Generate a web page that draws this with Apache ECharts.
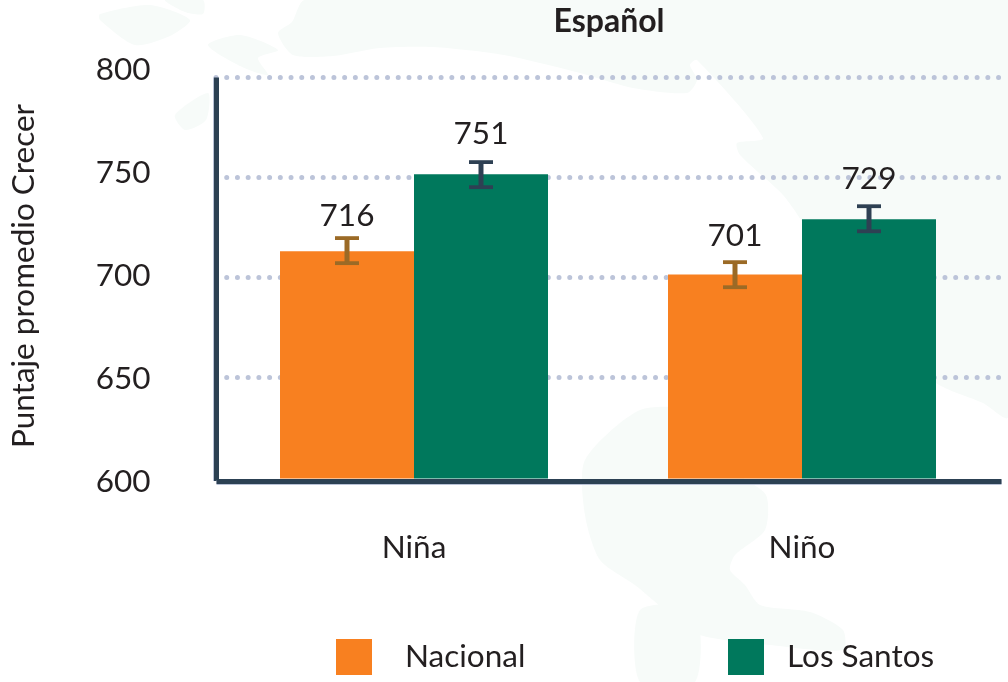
<!DOCTYPE html>
<html><head><meta charset="utf-8">
<style>html,body{margin:0;padding:0;background:#fff}#c{width:1008px;height:682px}</style>
<script src="https://cdn.jsdelivr.net/npm/echarts@6/dist/echarts.min.js"></script>
</head><body><div id="c"></div>
<script>
const categories = ['Niña', 'Niño'];
const nacionalBars = [713.3, 701.8];
const santosBars = [751.8, 729.3];
const nacionalLabels = ['716', '701'];
const santosLabels = ['751', '729'];
const nacionalLow = [707.4, 695.4];
const nacionalHigh = [719.9, 707.9];
const santosLow = [745.3, 723.3];
const santosHigh = [757.8, 735.8];
const nacionalLabelAt = [731.2, 720.8];
const santosLabelAt = [771.9, 749.6];
const yTicks = {min: 600, max: 800, interval: 50};

const FONT = 'Lato';
const INK = '#231f20';
const ORANGE = '#f88020';
const GREEN = '#00785c';
const AXIS = '#2c4153';
const BAR_W = 134;
const FS = 31.5;

const wash = '#f7fbf9';
const shapes = [
  [[305,0],[292,22],[278,33],[293,55],[333,56],[380,48],[433,47],[504,55],[580,73],[633,88],[687,93],[697,80],[690,65],[697,60],[763,138],[737,143],[740,155],[783,195],[810,235],[840,300],[936,383],[983,403],[1008,417],[1008,0]],
  [[100,14],[150,5],[190,20],[170,36],[135,45],[100,20]],
  [[165,0],[203,0],[203,14],[185,12]],
  [[208,45],[240,35],[278,50],[258,58],[268,75],[240,66]],
  [[175,115],[208,93],[206,120],[185,130]],
  [[585,515],[600,560],[635,585],[665,610],[700,635],[770,645],[843,650],[843,630],[810,612],[760,605],[745,585],[730,570],[735,555],[765,530],[766,495],[735,470],[735,430],[700,410],[640,410],[585,460]],
  [[640,610],[695,610],[695,682],[640,682]]
];

function errorSeries(name, low, high, labels, labelAt, color, dir) {
  return {
    name, type: 'custom', xAxisIndex: 0, yAxisIndex: 0, z: 6, clip: false,
    data: categories.map((c, i) => [i, low[i], high[i], labelAt[i], labels[i]]),
    encode: {x: 0, y: [1, 2]},
    renderItem(params, api) {
      const i = api.value(0);
      const lo = api.coord([i, api.value(1)]);
      const hi = api.coord([i, api.value(2)]);
      const at = api.coord([i, api.value(3)]);
      const x = lo[0] + dir * BAR_W / 2;
      const line = (x1, y1, x2, y2, w) => ({type: 'line', shape: {x1, y1, x2, y2}, style: {stroke: color, lineWidth: w}});
      return {type: 'group', children: [
        line(x, hi[1], x, lo[1], 5),
        line(x - 12, hi[1], x + 12, hi[1], 3.8),
        line(x - 12, lo[1], x + 12, lo[1], 3.8),
        {type: 'text', style: {text: labels[i], x, y: at[1], align: 'center', verticalAlign: 'middle',
          fontFamily: FONT, fontSize: FS, fill: INK}}
      ]};
    }
  };
}

const hiddenX = (g) => ({type: 'category', gridIndex: g, data: categories, show: false});

const option = {
  backgroundColor: '#fff',
  animation: false,
  title: {text: 'Español', left: 609, textAlign: 'center', top: 6, padding: 0,
    textStyle: {fontFamily: FONT, fontSize: 32, fontWeight: 'bold', color: INK}},
  graphic: shapes.map(points => ({type: 'polygon', z: -10, silent: true,
    shape: {points, smooth: 0.25}, style: {fill: wash}})),
  legend: [
    {left: 336, top: 639, data: ['Nacional'], itemWidth: 36, itemHeight: 36, selectedMode: false, padding: 0, icon: 'rect',
      textStyle: {fontFamily: FONT, fontSize: FS, color: INK, padding: [10, 0, 0, 28]}},
    {left: 728, top: 639, data: ['Los Santos'], itemWidth: 36, itemHeight: 36, selectedMode: false, padding: 0, icon: 'rect',
      textStyle: {fontFamily: FONT, fontSize: FS, color: INK, padding: [10, 0, 0, 18]}}
  ],
  grid: [
    {left: 220, width: 776, top: 77.5, height: 401},
    {left: 216, width: 794, top: 77.5, height: 400},
    {left: 216, width: 794, top: 70, height: 412},
    {left: 216.5, width: 785, top: 77.5, height: 403.5}
  ],
  xAxis: [
    {type: 'category', gridIndex: 0, data: categories, axisLine: {show: false}, axisTick: {show: false},
      axisLabel: {margin: 53, fontFamily: FONT, fontSize: FS, color: INK}},
    hiddenX(1), hiddenX(2),
    {type: 'category', gridIndex: 3, data: categories, z: 8, axisTick: {show: false}, axisLabel: {show: false},
      axisLine: {show: true, lineStyle: {color: AXIS, width: 5, cap: 'butt', shadowColor: '#b9c2d6', shadowOffsetY: 1, shadowBlur: 0}}}
  ],
  yAxis: [
    {type: 'value', gridIndex: 0, ...yTicks, show: false},
    {type: 'value', gridIndex: 1, ...yTicks, axisLine: {show: false}, axisTick: {show: false}, axisLabel: {show: false},
      splitLine: {show: true, showMinLine: false, lineStyle: {color: '#bcc4d9', width: 5, cap: 'round', type: [0, 10.72], dashOffset: 0}}},
    {type: 'value', gridIndex: 2, ...yTicks, axisLine: {show: false}, axisTick: {show: false}, splitLine: {show: false},
      axisLabel: {margin: 69.5, fontFamily: FONT, fontSize: FS, color: INK},
      name: 'Puntaje promedio Crecer', nameLocation: 'middle', nameRotate: 90, nameGap: 180,
      nameTextStyle: {fontFamily: FONT, fontSize: 31.5, color: INK}},
    {type: 'value', gridIndex: 3, ...yTicks, z: 8, axisLabel: {show: false}, axisTick: {show: false}, splitLine: {show: false},
      axisLine: {show: true, lineStyle: {color: AXIS, width: 5, cap: 'butt', shadowColor: '#b9c2d6', shadowOffsetX: -1, shadowBlur: 0}}}
  ],
  series: [
    {name: 'Nacional', type: 'bar', data: nacionalBars, barWidth: BAR_W, barGap: 0, itemStyle: {color: ORANGE}, z: 4},
    {name: 'Los Santos', type: 'bar', data: santosBars, barWidth: BAR_W, barGap: 0, itemStyle: {color: GREEN}, z: 4},
    errorSeries('Nacional error', nacionalLow, nacionalHigh, nacionalLabels, nacionalLabelAt, '#9b6a26', -1),
    errorSeries('Los Santos error', santosLow, santosHigh, santosLabels, santosLabelAt, '#2e4053', 1)
  ]
};
echarts.init(document.getElementById('c')).setOption(option);
</script></body></html>
